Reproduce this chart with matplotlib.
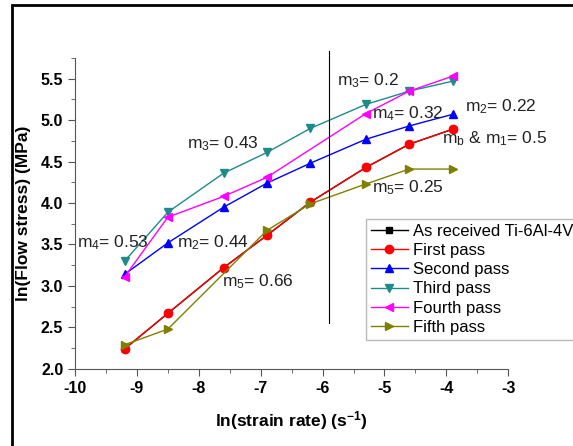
import matplotlib
matplotlib.use('Agg')
from matplotlib import pyplot as plt
from matplotlib.patches import Rectangle
from matplotlib.ticker import MultipleLocator

plt.rcParams['font.family'] = ['Liberation Sans', 'DejaVu Sans']
plt.rcParams['mathtext.fontset'] = 'custom'
plt.rcParams['mathtext.rm'] = 'Liberation Sans'
plt.rcParams['mathtext.it'] = 'Liberation Sans'
plt.rcParams['mathtext.bf'] = 'Liberation Sans:bold'
plt.rcParams['axes.unicode_minus'] = False

# ln(strain rate) values
x_all = [-9.2, -8.5, -7.6, -6.9, -6.2, -5.3, -4.6, -3.9]

as_received = [2.24, 2.67, 3.22, 3.61, 4.01, 4.43, 4.71, 4.89]
first_pass = [2.24, 2.67, 3.22, 3.61, 4.01, 4.43, 4.71, 4.89]
second_pass = [3.14, 3.52, 3.95, 4.24, 4.48, 4.77, 4.93, 5.07]
third_pass = [3.30, 3.89, 4.36, 4.61, 4.90, 5.19, 5.35, 5.47]

x_fourth = [-9.2, -8.5, -7.6, -6.9, -5.3, -4.6, -3.9]
fourth_pass = [3.11, 3.83, 4.08, 4.31, 5.08, 5.35, 5.53]

x_fifth = [-9.2, -8.5, -6.9, -6.2, -5.3, -4.6, -3.9]
fifth_pass = [2.29, 2.48, 3.67, 3.99, 4.23, 4.41, 4.41]

fig = plt.figure(figsize=(5.73, 4.46), dpi=100)
ax = fig.add_axes([0.131, 0.173, 0.756, 0.697])

ax.plot(x_all, as_received, '-s', color='black', ms=4, lw=1, label='As received Ti-6Al-4V')
ax.plot(x_all, first_pass, '-o', color='red', ms=6, lw=1, label='First pass')
ax.plot(x_all, second_pass, '-^', color='blue', ms=6, lw=1, label='Second pass')
ax.plot(x_all, third_pass, '-v', color='#1f8a8a', ms=6, lw=1, label='Third pass')
ax.plot(x_fourth, fourth_pass, '-<', color='#ff00ff', ms=6, lw=1, label='Fourth pass')
ax.plot(x_fifth, fifth_pass, '->', color='#808000', ms=6, lw=1, label='Fifth pass')

# vertical separator
ax.plot([-5.9, -5.9], [2.55, 5.84], color='black', lw=0.8, clip_on=False)

notes = [
    (-8.19, 4.72, r'm$_3$= 0.43'),
    (-9.97, 3.52, r'm$_4$= 0.53'),
    (-8.35, 3.52, r'm$_2$= 0.44'),
    (-7.63, 3.05, r'm$_5$= 0.66'),
    (-5.77, 5.48, r'm$_3$= 0.2'),
    (-5.20, 5.08, r'm$_4$= 0.32'),
    (-3.70, 5.16, r'm$_2$= 0.22'),
    (-4.07, 4.78, r'm$_\mathrm{b}$ & m$_1$= 0.5'),
    (-5.20, 4.19, r'm$_5$= 0.25'),
]
for nx, ny, txt in notes:
    ax.text(nx, ny, txt, fontsize=12.5, va='center', ha='left', color='#222222')

ax.set_xlim(-10, -3)
ax.set_ylim(2.0, 5.75)
ax.xaxis.set_major_locator(MultipleLocator(1))
ax.xaxis.set_minor_locator(MultipleLocator(0.5))
ax.yaxis.set_minor_locator(MultipleLocator(0.25))
ax.set_yticks([2.0, 2.5, 3.0, 3.5, 4.0, 4.5, 5.0, 5.5])
ax.set_yticklabels(['2.0', '2.5', '3.0', '3.5', '4.0', '4.5', '5.0', '5.5'])

for s in ['top', 'right']:
    ax.spines[s].set_visible(False)
for s in ['left', 'bottom']:
    ax.spines[s].set_color('#555555')
ax.tick_params(which='both', direction='out', color='#555555')
ax.tick_params(which='major', length=5, labelsize=11.5)
ax.tick_params(which='minor', length=3)
for lab in ax.get_xticklabels() + ax.get_yticklabels():
    lab.set_fontweight('bold')

ax.set_xlabel(r'ln(strain rate) (s$^{\mathbf{-1}}$)', fontsize=12.5, fontweight='bold', labelpad=10)
ax.set_ylabel('ln(Flow stress) (MPa)', fontsize=12.5, fontweight='bold', labelpad=7)

leg = fig.legend(loc='upper left', bbox_to_anchor=(0.639, 0.509), fontsize=12,
                 frameon=True, fancybox=False, borderaxespad=0, handlelength=2.2,
                 labelspacing=0.25, handletextpad=0.3, borderpad=0.3)
leg.get_frame().set_edgecolor('#aaaaaa')
leg.get_frame().set_linewidth(1)

# figure border
fig.patches.append(Rectangle((0.021, -0.05), 1.1, 1.039, transform=fig.transFigure,
                             fill=False, edgecolor='black', lw=2))

fig.savefig('out.png', dpi=100)
